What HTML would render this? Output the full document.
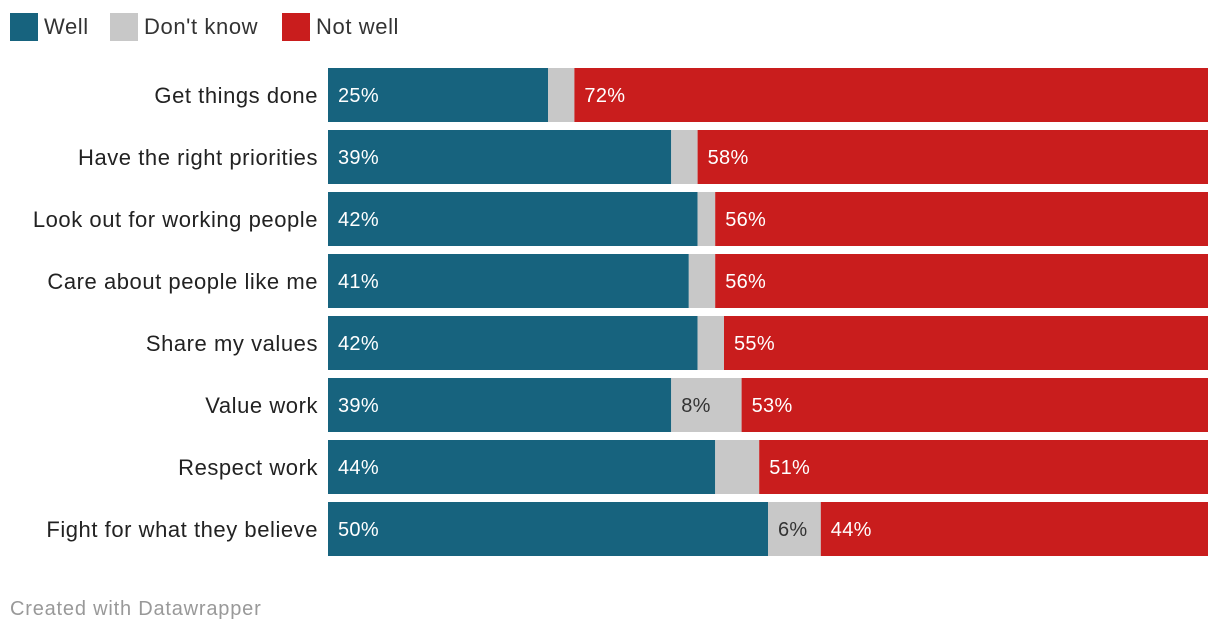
<!DOCTYPE html>
<html><head><meta charset="utf-8"><style>
body{margin:0;background:#fff;font-family:"Liberation Sans",Arial,sans-serif;}
#wrap{position:relative;width:1220px;height:634px;overflow:hidden;}
svg text{font-family:"Liberation Sans",Arial,sans-serif;}
</style></head><body>
<div id="wrap">
<svg id="chart" width="1220" height="634"></svg>
</div>
<script>
const categories=["Get things done","Have the right priorities","Look out for working people","Care about people like me","Share my values","Value work","Respect work","Fight for what they believe"];
const well=[25,39,42,41,42,39,44,50];
const dontKnow=[3,3,2,3,3,8,5,6];
const notWell=[72,58,56,56,55,53,51,44];
const seriesNames=["Well","Don't know","Not well"];
const colors=["#17637e","#c8c8c8","#c91d1d"];
const NS="http://www.w3.org/2000/svg";
const svg=document.getElementById('chart');
const x0=328,x1=1208,top0=68,step=62,bh=54;
function xs(v){return v/100*(x1-x0);}
function yr(i){return top0+i*step;}
function mk(tag,attrs,parent){const e=document.createElementNS(NS,tag);for(const k in attrs)e.setAttribute(k,attrs[k]);(parent||svg).appendChild(e);return e;}
const lx=[10,110,282];
seriesNames.forEach((n,i)=>{
 const g=mk('g',{});
 
 
 mk('rect',{x:lx[i],y:13,width:28,height:28,fill:colors[i]},g);
 const t=mk('text',{x:lx[i]+34,y:34,'font-size':22,'letter-spacing':0.6,fill:'#333'},g);t.textContent=n;
});
categories.forEach((c,i)=>{
 const y=yr(i);
 const lab=mk('text',{x:318,y:y+35,'font-size':22,'letter-spacing':0.55,fill:'#222','text-anchor':'end'});
 
 
 lab.textContent=c;
 const vals=[well[i],dontKnow[i],notWell[i]];
 let x=x0;
 vals.forEach((v,j)=>{
  const w=xs(v);
  const r=mk('rect',{x:x,y:y,width:w,height:bh,fill:colors[j]});
  
  
  if(j!==1||v>=6){
   const t=mk('text',{x:x+10,y:y+34,'font-size':20,'letter-spacing':0.3,fill:j===1?'#333':'#fff'});
   
   
   t.textContent=v+'%';
  }
  x+=w;
 });
});
const cr=mk('text',{x:10,y:615,'font-size':20,'letter-spacing':0.8,fill:'#999'});


cr.textContent='Created with Datawrapper';
</script>
</body></html>
